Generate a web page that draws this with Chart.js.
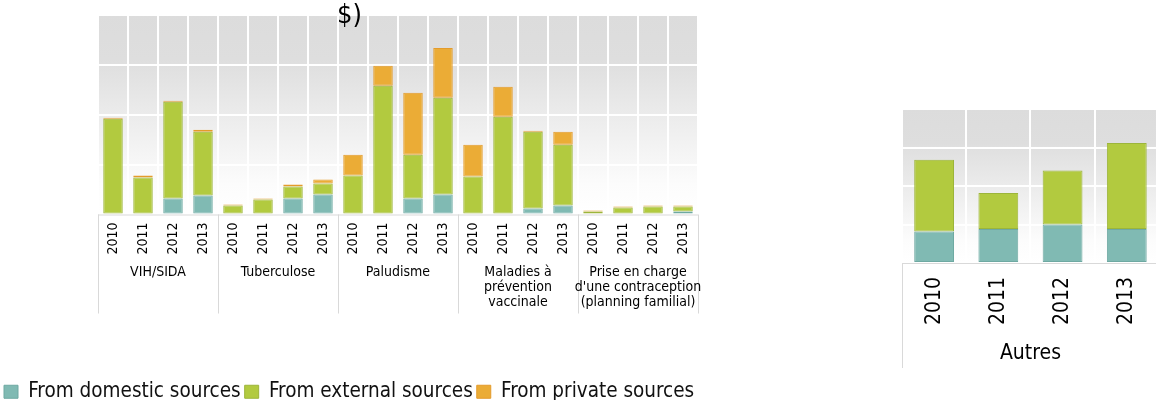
<!DOCTYPE html>
<html>
<head>
<meta charset="utf-8">
<script src="https://cdn.jsdelivr.net/npm/chart.js@4"></script>
<style>
  html, body { margin: 0; padding: 0; background: #fff; overflow: hidden; width: 1156px; height: 400px; }
  #left { position: absolute; left: 0; top: 0; width: 780px; height: 412px; }
  #right { position: absolute; left: 880px; top: 90px; width: 286px; height: 290px; }
  #title { position: absolute; left: 337px; top: -2px; z-index: 2; color: #000;
           font: 27px "DejaVu Sans Condensed", "DejaVu Sans", sans-serif; }
</style>
</head>
<body>
<div id="title">$)</div>
<div id="left"><canvas id="left-chart"></canvas></div>
<div id="right"><canvas id="right-chart"></canvas></div>
<script>
"use strict";

// data (heights, one gridline = 50)
var YEARS = ["2010", "2011", "2012", "2013"];
var GROUPS = [
  ["VIH/SIDA"],
  ["Tuberculose"],
  ["Paludisme"],
  ["Maladies à", "prévention", "vaccinale"],
  ["Prise en charge", "d'une contraception", "(planning familial)"]
];
var SERIES = ["From domestic sources", "From external sources", "From private sources"];
var DOMESTIC = [0, 0, 16, 19,  0, 0, 16, 20,  0, 0, 16, 20,  0, 0, 6, 9,    0, 0, 1, 3];
var EXTERNAL = [96, 37, 97, 64,  9, 15, 12, 11,  39, 129, 44, 97,  38, 98, 77, 61,  3, 7, 7, 5];
var PRIVATE  = [1, 2, 1, 2,  1, 1, 2, 4,  21, 20, 62, 50,  32, 30, 1, 13,  1, 1, 1, 1];

var OTHER_LABEL = "Autres";
var OTHER_DOMESTIC = [41, 44, 50, 44];
var OTHER_EXTERNAL = [93, 47, 70, 112];

var FILL = ["#80bab3", "#b2ca3f", "#ebac36"];
var EDGE = ["#6ea9a2", "#9cb53a", "#e49b2b"];
var FONT = "'DejaVu Sans Condensed', 'DejaVu Sans', sans-serif";

Chart.defaults.font.family = FONT;
Chart.defaults.color = "#000";
Chart.defaults.animation = false;

function $(id) { return document.getElementById(id); }

function labelsFor(groups) {
  var out = [];
  groups.forEach(function () { YEARS.forEach(function (y) { out.push(y); }); });
  return out;
}

function plotBackground() {
  return {
    id: "plotBg",
    beforeDraw: function (chart) {
      var a = chart.chartArea, ctx = chart.ctx;
      var g = ctx.createLinearGradient(0, a.top, 0, a.bottom);
      g.addColorStop(0, "#dcdcdc");
      g.addColorStop(0.22, "#dedede");
      g.addColorStop(0.85, "#fcfcfc");
      g.addColorStop(1, "#ffffff");
      ctx.save();
      ctx.fillStyle = g;
      ctx.fillRect(a.left, a.top, a.right - a.left, a.bottom - a.top);
      ctx.restore();
    }
  };
}

// frame lines under the plot and the group captions
function labelBox(boxHeight, groups, fontSize, firstLine, lineGap) {
  return {
    id: "labelBox",
    afterDraw: function (chart) {
      var x = chart.scales.x, a = chart.chartArea, ctx = chart.ctx;
      var per = YEARS.length;
      var bottom = a.bottom + boxHeight;
      ctx.save();
      ctx.strokeStyle = "#d9d9d9";
      ctx.lineWidth = 1;
      ctx.beginPath();
      ctx.moveTo(a.left, a.bottom + 0.5);
      ctx.lineTo(a.right, a.bottom + 0.5);
      for (var g = 0; g <= groups.length; g++) {
        var px = Math.round(x.getPixelForValue(g * per - 0.5)) + 0.5;
        ctx.moveTo(px, a.bottom);
        ctx.lineTo(px, bottom);
      }
      ctx.stroke();
      ctx.fillStyle = "#000";
      ctx.font = fontSize + "px " + FONT;
      ctx.textAlign = "center";
      ctx.textBaseline = "middle";
      groups.forEach(function (lines, gi) {
        var cx = x.getPixelForValue(gi * per + (per - 1) / 2);
        lines.forEach(function (txt, li) {
          ctx.fillText(txt, cx, a.bottom + firstLine + li * lineGap);
        });
      });
      ctx.restore();
    }
  };
}

function barSet(i, data, pct) {
  return {
    label: SERIES[i],
    data: data,
    backgroundColor: FILL[i],
    borderColor: EDGE[i],
    borderWidth: 1,
    borderSkipped: false,
    categoryPercentage: 1,
    barPercentage: pct
  };
}

function yScale(width) {
  return {
    stacked: true,
    min: 0, max: 200,
    border: { display: false },
    grid: { color: "#ffffff", lineWidth: 2, drawTicks: false },
    ticks: { display: false, stepSize: 50 },
    afterFit: function (s) { s.width = width; }
  };
}

// empty right-hand axis, only reserves room so the legend keeps the full width
function spacerScale(width) {
  return {
    position: "right",
    border: { display: false },
    grid: { display: false },
    ticks: { display: false },
    afterFit: function (s) { s.width = width; }
  };
}

function xScale(fontSize, pad, height) {
  return {
    stacked: true,
    border: { display: false },
    grid: { color: "#ffffff", lineWidth: 2, drawTicks: false, offset: true },
    ticks: { minRotation: 90, maxRotation: 90, padding: pad, font: { size: fontSize }, autoSkip: false },
    afterFit: function (s) { s.height = height; }
  };
}

function renderLeft() {
  new Chart($("left-chart"), {
    type: "bar",
    data: {
      labels: labelsFor(GROUPS),
      datasets: [barSet(0, DOMESTIC, 0.65), barSet(1, EXTERNAL, 0.65), barSet(2, PRIVATE, 0.65)]
    },
    options: {
      responsive: true, maintainAspectRatio: false,
      layout: { padding: { top: 15, right: 0, left: 0, bottom: 0 } },
      scales: { x: xScale(14, 8, 163), y: yScale(98), pad: spacerScale(82) },
      plugins: {
        legend: {
          position: "bottom", align: "start",
          labels: { boxWidth: 14, boxHeight: 13, padding: 4, color: "#111", font: { size: 20.5 } }
        },
        tooltip: { enabled: false }
      }
    },
    plugins: [plotBackground(), labelBox(99, GROUPS, 14, 58, 15)]
  });
}

function renderRight() {
  new Chart($("right-chart"), {
    type: "bar",
    data: {
      labels: YEARS,
      datasets: [barSet(0, OTHER_DOMESTIC, 0.62), barSet(1, OTHER_EXTERNAL, 0.62)]
    },
    options: {
      responsive: true, maintainAspectRatio: false,
      layout: { padding: { top: 19, right: 0, left: 0, bottom: 0 } },
      scales: { x: xScale(21, 14, 117), y: yScale(22) },
      plugins: { legend: { display: false }, tooltip: { enabled: false } }
    },
    plugins: [plotBackground(), labelBox(105, [[OTHER_LABEL]], 21, 91, 20)]
  });
}

renderLeft();
renderRight();
</script>
</body>
</html>
